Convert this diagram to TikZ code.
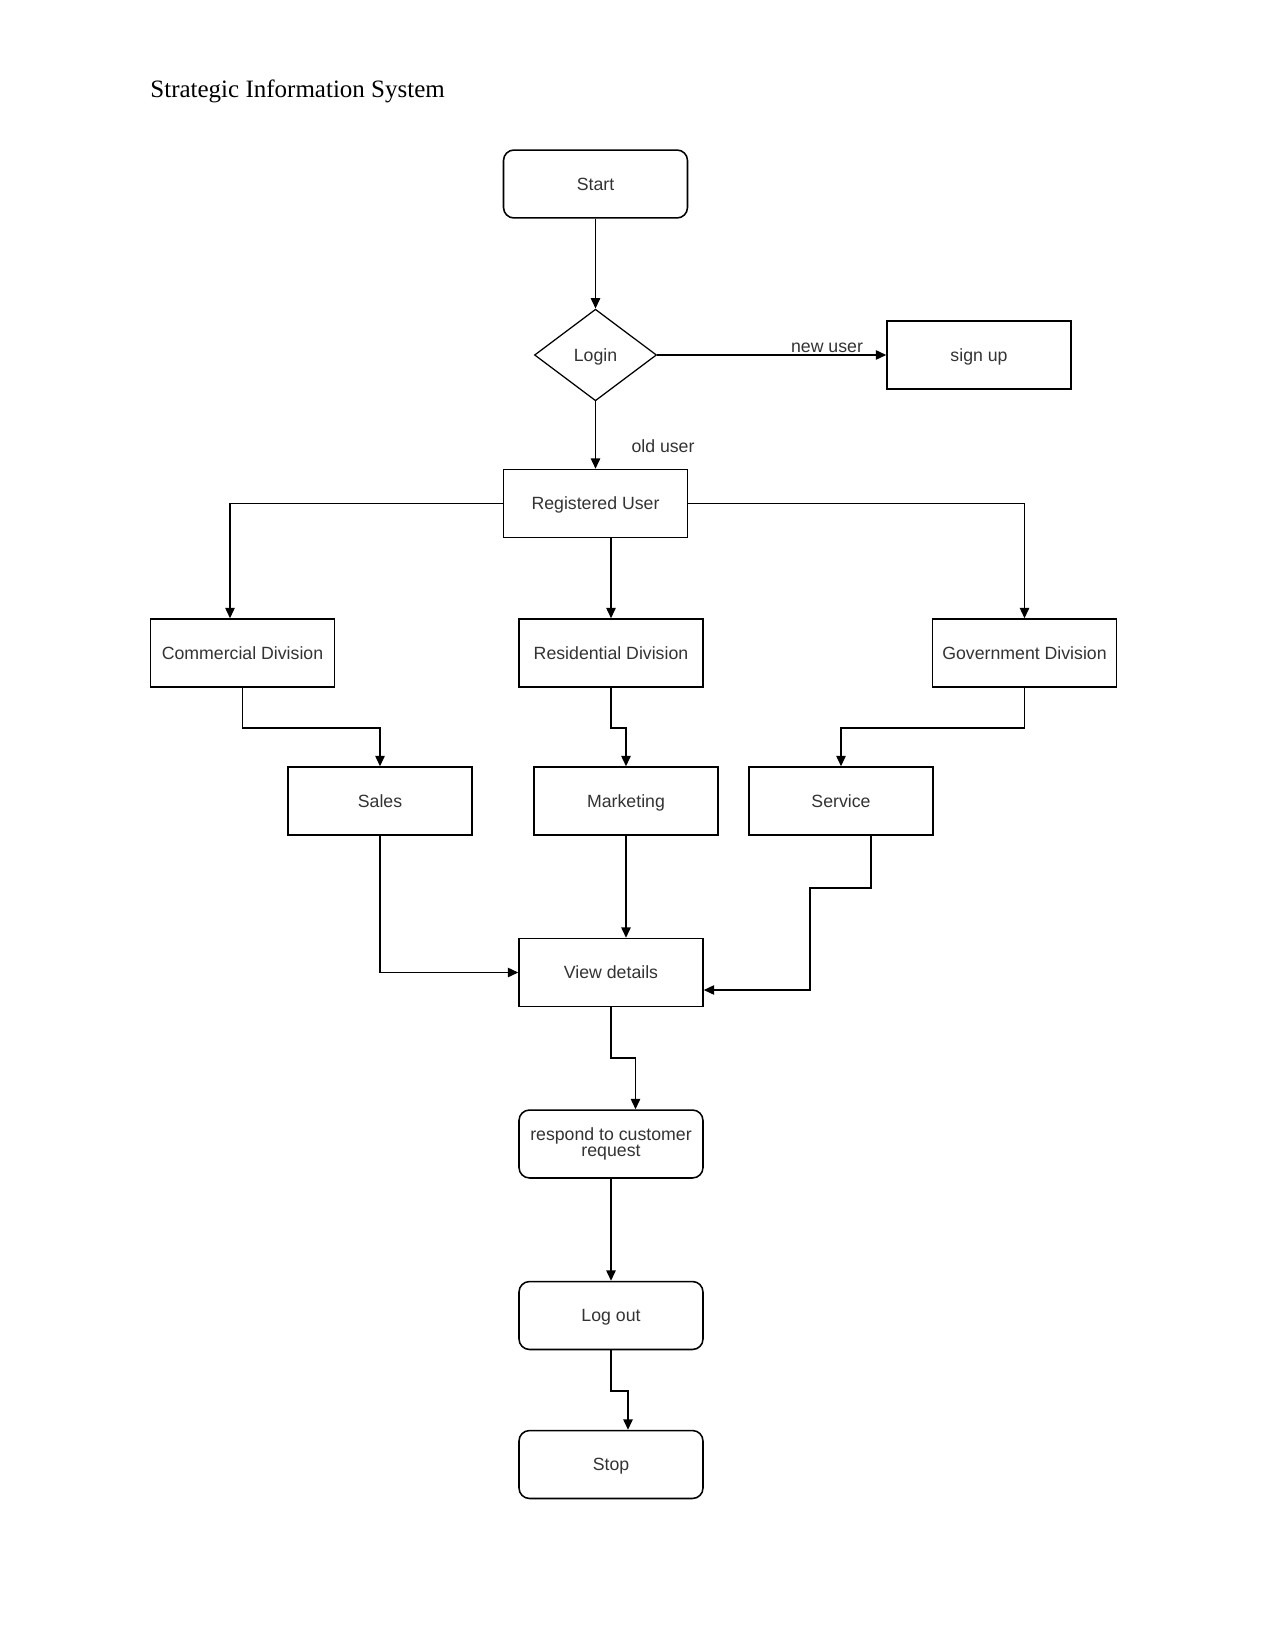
\documentclass[tikz,border=0pt]{standalone}
\usepackage{fontspec}
\setmainfont{Liberation Serif}
\newfontfamily\sansf{Liberation Sans}
\usetikzlibrary{shapes.geometric,arrows.meta,calc}
\definecolor{txtgray}{HTML}{333333}
\tikzset{
  basebox/.style={draw=black, line width=0.75pt, minimum width=88.3pt, minimum height=32.6pt, inner sep=1pt,
    font=\sansf\fontsize{8.5}{9.5}\selectfont, text=txtgray, align=center},
  box/.style={basebox, text height=7pt, text depth=0.9pt},
  rbox/.style={box, rounded corners=5pt},
  rmbox/.style={basebox, rounded corners=5pt},
  dec/.style={draw=black, line width=0.6pt, diamond, minimum width=58.6pt, minimum height=44pt, inner sep=0pt,
    font=\sansf\fontsize{8.5}{9.5}\selectfont, text=txtgray, text height=7pt, text depth=0.9pt},
  arr/.style={draw=black, line width=0.75pt, -{Triangle[length=5pt,width=4.5pt]}},
  lbl/.style={font=\sansf\fontsize{8.5}{9.5}\selectfont, text=txtgray, inner sep=0pt, text height=7pt, text depth=0.9pt}
}
\begin{document}
\begin{tikzpicture}[x=0.48pt,y=-0.48pt]
\useasboundingbox[fill=white] (0,0) rectangle (1275,1650);
\node[anchor=base west, font=\fontsize{12}{14}\selectfont, inner sep=0pt] (title) at (150,98) {Strategic Information System};

\node[rbox] (start) at (595.5,184) {Start};
\node[dec] (login) at (595.5,355) {Login};
\node[box] (signup) at (979,355) {sign up};
\node[box] (reg) at (595.5,503.5) {Registered User};
\node[box] (comm) at (242.5,653) {Commercial Division};
\node[box] (resi) at (611,653) {Residential Division};
\node[box] (gov) at (1024.5,653) {Government Division};
\node[box] (sales) at (380,801) {Sales};
\node[box] (mark) at (626,801) {Marketing};
\node[box] (serv) at (841,801) {Service};
\node[box] (view) at (611,972.5) {View details};
\node[rmbox] (resp) at (611,1144) {respond to customer\\[-2pt]request};
\node[rbox] (logout) at (611,1315.5) {Log out};
\node[rbox] (stop) at (611,1464.5) {Stop};

\node[lbl] (newuser) at (827,346) {new user};
\node[lbl] (olduser) at (663,446) {old user};

\draw[arr] (start) -- (login);
\draw[arr] (login.east) -- (signup.west);
\draw[arr] (login.south) -- (reg.north);
\draw[arr] (reg.west) -| ($(comm.north)+(-12.5,0)$);
\draw[arr] (reg.south -| resi.north) -- (resi.north);
\draw[arr] (reg.east) -| (gov.north);
\draw[arr] (comm.south) -- ++(0,40) -| (sales.north);
\draw[arr] (resi.south) -- ++(0,40) -| (mark.north);
\draw[arr] (gov.south) -- ++(0,40) -| (serv.north);
\draw[arr] (sales.south) |- (view.west);
\draw[arr] (mark.south) -- (mark.south |- view.north);
\draw[arr] ($(serv.south)+(30,0)$) -- ++(0,52) -- ++(-61,0) |- ($(view.east)+(0,17.5)$);
\draw[arr] (view.south) -- ++(0,51) -| ($(resp.north)+(24.5,0)$);
\draw[arr] (resp.south) -- (logout.north);
\draw[arr] (logout.south) -- ++(0,41) -| ($(stop.north)+(17,0)$);
\end{tikzpicture}
\end{document}
